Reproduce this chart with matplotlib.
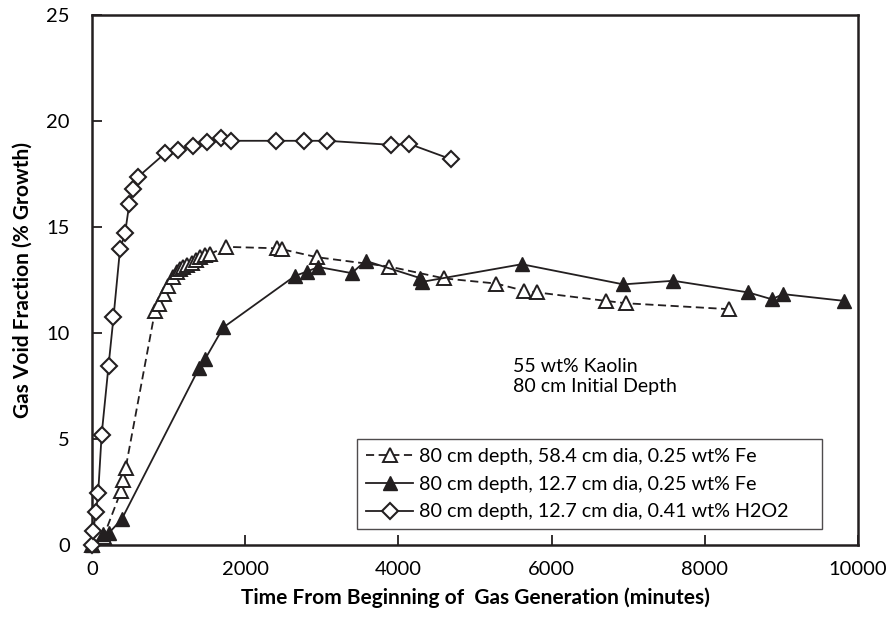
# Gas void fraction vs time, 80 cm kaolin tests
import matplotlib
matplotlib.use("Agg")
import matplotlib.pyplot as plt

plt.rcParams['font.family'] = ['Lato', 'DejaVu Sans']

# 80 cm depth, 58.4 cm dia, 0.25 wt% Fe (open triangles, dashed)
fe_wide_t = [0, 150, 379, 410, 440, 822, 875, 940, 997, 1062, 1106, 1149, 1192,
             1244, 1301, 1358, 1410, 1475, 1540, 1745, 2419, 2476, 2937, 3881,
             4600, 5274, 5640, 5814, 6710, 6971, 8320]
fe_wide_v = [0, 0.4, 2.56, 3.07, 3.66, 11.05, 11.37, 11.84, 12.23, 12.63, 12.86,
             13.02, 13.1, 13.2, 13.33, 13.44, 13.57, 13.68, 13.73, 14.07, 14.0,
             13.96, 13.58, 13.14, 12.58, 12.34, 12.0, 11.92, 11.52, 11.41, 11.13]

# 80 cm depth, 12.7 cm dia, 0.25 wt% Fe (filled triangles)
fe_narrow_t = [0, 148, 226, 388, 1401, 1475, 1714, 2650, 2802, 2955, 3390, 3572,
               4280, 4310, 5610, 6936, 7589, 8568, 8873, 9025, 9822]
fe_narrow_v = [0, 0.52, 0.6, 1.23, 8.38, 8.77, 10.27, 12.7, 12.9, 13.12, 12.83,
               13.41, 12.6, 12.42, 13.25, 12.3, 12.47, 11.92, 11.6, 11.84, 11.52]

# 80 cm depth, 12.7 cm dia, 0.41 wt% H2O2 (open diamonds)
h2o2_t = [0, 15, 50, 80, 125, 215, 280, 365, 430, 487, 540, 596, 953, 1118, 1314,
          1497, 1684, 1810, 2405, 2768, 3068, 3903, 4143, 4687]
h2o2_v = [0, 0.65, 1.55, 2.45, 5.2, 8.45, 10.74, 13.95, 14.7, 16.1, 16.8, 17.35,
          18.48, 18.65, 18.84, 19.02, 19.2, 19.07, 19.07, 19.07, 19.07, 18.88,
          18.92, 18.2]

labels = ["80 cm depth, 58.4 cm dia, 0.25 wt% Fe",
          "80 cm depth, 12.7 cm dia, 0.25 wt% Fe",
          "80 cm depth, 12.7 cm dia, 0.41 wt% H2O2"]

ink = '#231f20'

fig = plt.figure(figsize=(8.91, 6.21), dpi=100)
ax = fig.add_axes([0.1033, 0.122, 0.8597, 0.8538])

ax.plot(fe_wide_t, fe_wide_v, color=ink, lw=1.3, dashes=(4.5, 2.5),
        marker='^', ms=10.5, mfc='white', mec=ink, mew=1.4, label=labels[0],
        clip_on=False, zorder=3)
ax.plot(fe_narrow_t, fe_narrow_v, color=ink, lw=1.3,
        marker='^', ms=10.5, mfc=ink, mec=ink, mew=1.0, label=labels[1],
        clip_on=False, zorder=3)
ax.plot(h2o2_t, h2o2_v, color=ink, lw=1.3,
        marker='D', ms=8.2, mfc='white', mec=ink, mew=1.5, label=labels[2],
        clip_on=False, zorder=3)

ax.set_xlim(0, 10000)
ax.set_ylim(0, 25)
ax.set_xticks(range(0, 10001, 2000))
ax.set_yticks(range(0, 26, 5))
ax.tick_params(direction='in', length=7, width=1.3, labelsize=14.5,
               colors=ink, labelcolor='black')
ax.tick_params(axis='x', pad=11)
ax.tick_params(axis='y', pad=16)
for s in ax.spines.values():
    s.set_linewidth(1.8)
    s.set_color(ink)

ax.set_xlabel("Time From Beginning of  Gas Generation (minutes)",
              fontsize=15, fontweight='bold', labelpad=7)
ax.set_ylabel("Gas Void Fraction (% Growth)", fontsize=15,
              fontweight='bold', labelpad=10)

ax.text(0.550, 0.318, "55 wt% Kaolin\n80 cm Initial Depth", transform=ax.transAxes,
        fontsize=14, va='center', ha='left', linespacing=1.25)

leg = ax.legend(loc='lower left', bbox_to_anchor=(0.346, 0.030, 0.607, 0.211),
                mode='expand', fontsize=14.2, frameon=True, fancybox=False,
                edgecolor=ink, handlelength=2.4, handletextpad=0.3,
                labelspacing=0.55, borderaxespad=0, borderpad=0.45)
leg.get_frame().set_linewidth(1.0)

fig.savefig("out.png", dpi=100)
